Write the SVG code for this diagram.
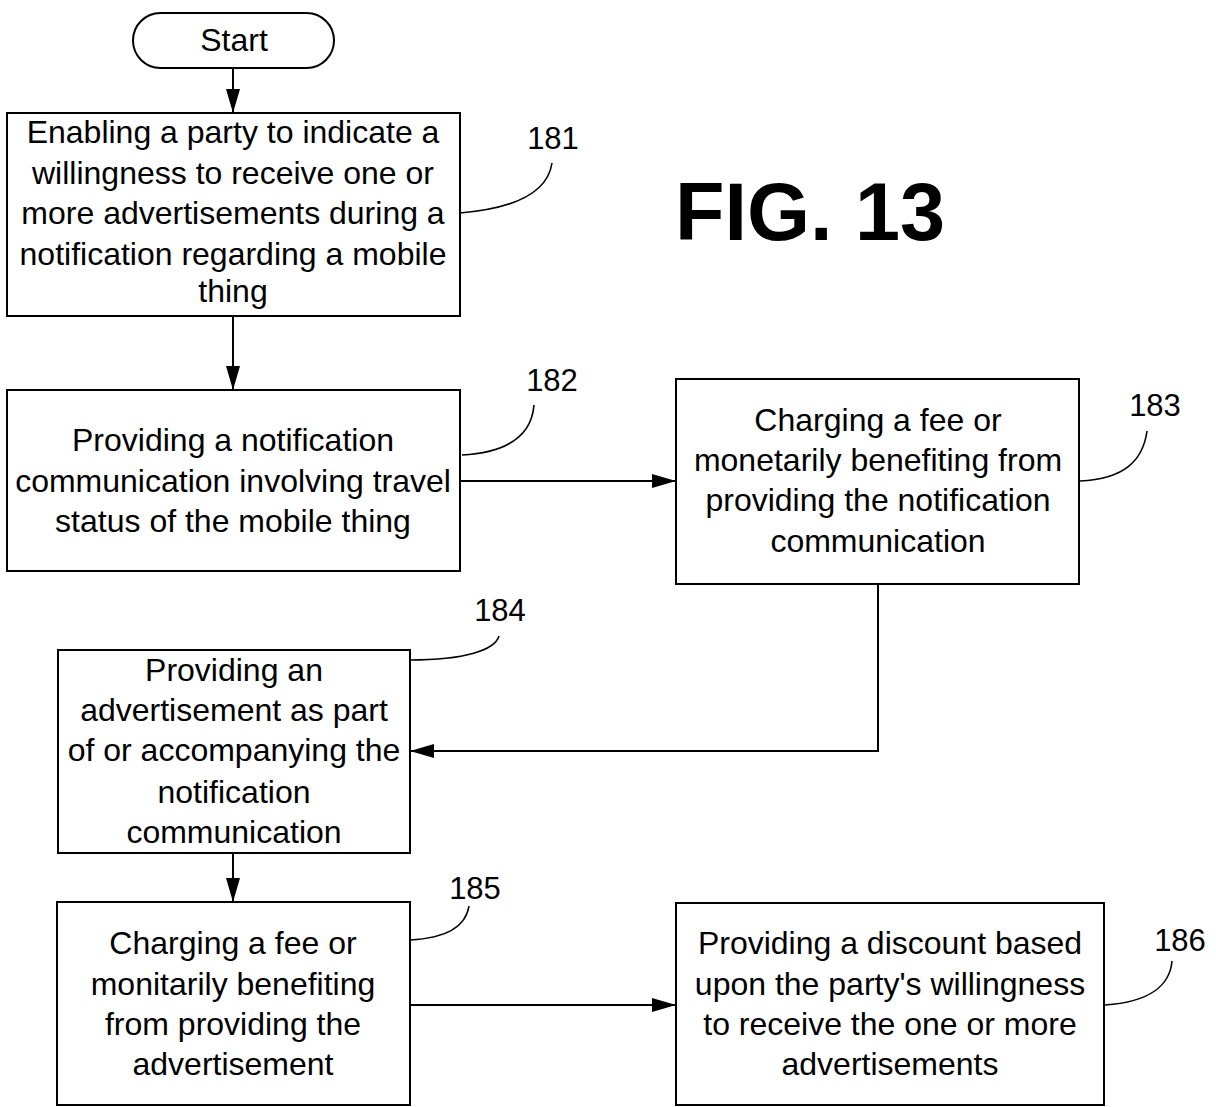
<svg xmlns="http://www.w3.org/2000/svg" width="1216" height="1107" viewBox="0 0 1216 1107">
<defs>
<marker id="ah" markerWidth="24" markerHeight="14" refX="24" refY="7" orient="auto" markerUnits="userSpaceOnUse">
<path d="M0,0 L24,7 L0,14 Z" fill="#000"/>
</marker>
<style>
.box{fill:#fff;stroke:#000;stroke-width:2}
.t{font-family:"Liberation Sans",Arial,sans-serif;font-size:32px;fill:#000;text-anchor:middle}
.n{font-family:"Liberation Sans",Arial,sans-serif;font-size:31px;fill:#000;text-anchor:middle}
.c{fill:none;stroke:#000;stroke-width:2}
.lead{fill:none;stroke:#000;stroke-width:1.6}
</style>
</defs>
<rect width="1216" height="1107" fill="#fff"/>
<g id="connectors">
<line class="c" x1="233" y1="68" x2="233" y2="113" marker-end="url(#ah)"/>
<line class="c" x1="233" y1="316" x2="233" y2="390" marker-end="url(#ah)"/>
<line class="c" x1="460" y1="481" x2="676" y2="481" marker-end="url(#ah)"/>
<polyline class="c" points="878,584 878,751 410,751" marker-end="url(#ah)"/>
<line class="c" x1="233" y1="853" x2="233" y2="902" marker-end="url(#ah)"/>
<line class="c" x1="410" y1="1005" x2="676" y2="1005" marker-end="url(#ah)"/>
</g>
<g id="start">
<rect class="box" x="133" y="13" width="201" height="55" rx="27.5"/>
<text class="t" x="234" y="51">Start</text>
</g>
<g id="n181">
<rect class="box" x="7" y="113" width="453" height="203"/>
<text class="t" x="233" y="143">Enabling a party to indicate a</text>
<text class="t" x="233" y="184">willingness to receive one or</text>
<text class="t" x="233" y="224">more advertisements during a</text>
<text class="t" x="233" y="265">notification regarding a mobile</text>
<text class="t" x="233" y="302">thing</text>
<text class="n" x="553" y="149">181</text>
<path class="lead" d="M460,213 C520,208 548,190 552,163"/>
</g>
<g id="n182">
<rect class="box" x="7" y="390" width="453" height="181"/>
<text class="t" x="233" y="451">Providing a notification</text>
<text class="t" x="233" y="492">communication involving travel</text>
<text class="t" x="233" y="532">status of the mobile thing</text>
<text class="n" x="552" y="391">182</text>
<path class="lead" d="M462,455 C515,452 532,430 534,405"/>
</g>
<g id="n183">
<rect class="box" x="676" y="379" width="403" height="205"/>
<text class="t" x="878" y="431">Charging a fee or</text>
<text class="t" x="878" y="471">monetarily benefiting from</text>
<text class="t" x="878" y="511">providing the notification</text>
<text class="t" x="878" y="552">communication</text>
<text class="n" x="1155" y="416">183</text>
<path class="lead" d="M1080,481 C1125,479 1143,460 1147,431"/>
</g>
<g id="n184">
<rect class="box" x="58" y="650" width="352" height="203"/>
<text class="t" x="234" y="681">Providing an</text>
<text class="t" x="234" y="721">advertisement as part</text>
<text class="t" x="234" y="761">of or accompanying the</text>
<text class="t" x="234" y="803">notification</text>
<text class="t" x="234" y="843">communication</text>
<text class="n" x="500" y="621">184</text>
<path class="lead" d="M410,660 C465,660 495,650 499,636"/>
</g>
<g id="n185">
<rect class="box" x="57" y="902" width="353" height="203"/>
<text class="t" x="233" y="954">Charging a fee or</text>
<text class="t" x="233" y="995">monitarily benefiting</text>
<text class="t" x="233" y="1035">from providing the</text>
<text class="t" x="233" y="1075">advertisement</text>
<text class="n" x="475" y="899">185</text>
<path class="lead" d="M410,940 C450,938 466,925 469,906"/>
</g>
<g id="n186">
<rect class="box" x="676" y="903" width="428" height="202"/>
<text class="t" x="890" y="954">Providing a discount based</text>
<text class="t" x="890" y="995">upon the party's willingness</text>
<text class="t" x="890" y="1035">to receive the one or more</text>
<text class="t" x="890" y="1075">advertisements</text>
<text class="n" x="1180" y="951">186</text>
<path class="lead" d="M1105,1005 C1150,1002 1170,985 1172,961"/>
</g>
<text x="810" y="240" font-family="Liberation Sans,Arial,sans-serif" font-weight="bold" font-size="81" text-anchor="middle">FIG. 13</text>
</svg>
